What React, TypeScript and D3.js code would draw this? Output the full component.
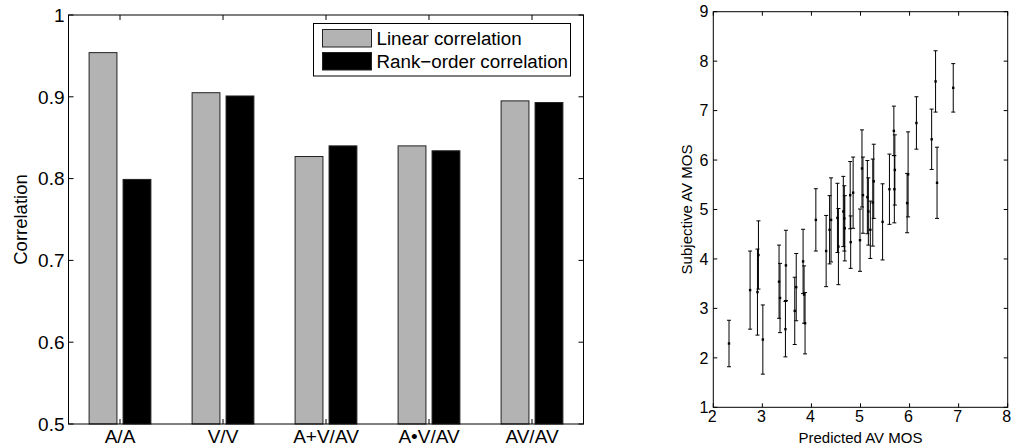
import React from 'react';
import * as d3 from 'd3';

// left panel: correlation per model
const categories = ['A/A', 'V/V', 'A+V/AV', 'A•V/AV', 'AV/AV'];
const linearCorr = [0.954, 0.905, 0.827, 0.840, 0.895];
const rankCorr = [0.799, 0.901, 0.840, 0.834, 0.893];
const seriesNames = ['Linear correlation', 'Rank−order correlation'];
const yTicksLeft = [0.5, 0.6, 0.7, 0.8, 0.9, 1];

// right panel: predicted vs subjective MOS with 95% intervals
const predicted = [2.32, 2.75, 2.90, 2.92, 3.01, 3.34, 3.36, 3.48, 3.47, 3.66, 3.69, 3.83, 3.85, 3.87,
  4.09, 4.30, 4.40, 4.37, 4.53, 4.55, 4.65, 4.67, 4.68, 4.79, 4.80, 4.85, 4.99, 5.03, 5.05,
  5.14, 5.16, 5.20, 5.25, 5.27, 5.45, 5.59, 5.68, 5.70, 5.69, 5.97, 5.95, 6.14, 6.45, 6.53, 6.56, 6.89];
const subjective = [2.29, 3.37, 3.33, 4.08, 2.37, 3.54, 3.21, 3.87, 2.58, 2.95, 3.43, 3.95, 3.28, 2.70,
  4.79, 4.16, 4.79, 4.59, 4.83, 4.25, 4.96, 4.82, 4.62, 5.29, 4.34, 5.34, 4.38, 5.83, 5.29,
  5.25, 4.96, 4.59, 5.14, 5.57, 4.75, 5.41, 6.59, 5.80, 5.41, 5.71, 5.13, 6.75, 6.42, 7.59, 5.54, 7.46];
const ciHalf = [0.47, 0.79, 0.87, 0.69, 0.70, 0.74, 0.70, 0.71, 0.56, 0.68, 0.68, 0.65, 0.58, 0.62,
  0.63, 0.72, 0.85, 0.69, 0.70, 0.77, 0.71, 0.66, 0.66, 0.68, 0.53, 0.72, 0.63, 0.78, 0.77,
  0.74, 0.68, 0.58, 0.88, 0.75, 0.77, 0.71, 0.50, 0.71, 0.68, 0.86, 0.60, 0.53, 0.61, 0.62, 0.72, 0.49];
const xTicksRight = [2, 3, 4, 5, 6, 7, 8];
const yTicksRight = [1, 2, 3, 4, 5, 6, 7, 8, 9];

const font = '"Liberation Sans", Arial, Helvetica, sans-serif';

const BarPanel = () => {
  const left = 68.5, right = 583.5, top = 15, bottom = 424;
  const x = d3.scaleBand().domain(categories).range([left, right]).paddingInner(0.4).paddingOuter(0.2);
  const inner = d3.scaleBand<number>().domain([0, 1]).range([0, x.bandwidth()]).paddingInner(0.18);
  const y = d3.scaleLinear().domain([0.5, 1]).range([bottom, top]);
  const series = [linearCorr, rankCorr];
  const fills = ['#b3b3b3', '#000'];
  const center = (c: string) => (x(c) as number) + x.bandwidth() / 2;

  return (
    <g>
      {series.map((vals, s) =>
        vals.map((v, i) => (
          <rect key={`${s}-${i}`}
            x={(x(categories[i]) as number) + (inner(s) as number)}
            y={y(v)}
            width={inner.bandwidth()}
            height={y(0.5) - y(v)}
            fill={fills[s]} stroke="#222" strokeWidth={1} />
        ))
      )}
      <rect x={left} y={top} width={right - left} height={bottom - top} fill="none" stroke="#000" strokeWidth={1} />
      {yTicksLeft.map(t => (
        <g key={t}>
          <line x1={left} x2={left + 5} y1={y(t)} y2={y(t)} stroke="#000" />
          <line x1={right} x2={right - 5} y1={y(t)} y2={y(t)} stroke="#000" />
          <text x={left - 4} y={y(t)} dy="0.36em" textAnchor="end" fontSize={19} fontFamily={font}>{t === 1 ? '1' : t.toFixed(1)}</text>
        </g>
      ))}
      {categories.map(c => (
        <g key={c}>
          <line x1={center(c)} x2={center(c)} y1={bottom} y2={bottom - 5} stroke="#000" />
          <line x1={center(c)} x2={center(c)} y1={top} y2={top + 5} stroke="#000" />
          <text x={center(c)} y={443} textAnchor="middle" fontSize={19} fontFamily={font}>{c}</text>
        </g>
      ))}
      <text transform={`translate(27,${(top + bottom) / 2}) rotate(-90)`} textAnchor="middle" fontSize={18.5} fontFamily={font}>Correlation</text>
      {/* legend */}
      <rect x={313.5} y={23.5} width={257} height={52.5} fill="#fff" stroke="#000" strokeWidth={1} />
      {seriesNames.map((n, s) => (
        <g key={n}>
          <rect x={322.5} y={29.5 + s * 23} width={49} height={17.5} fill={fills[s]} stroke="#222" />
          <text x={376.5} y={38.5 + s * 23} dy="0.36em" fontSize={18.8} fontFamily={font}>{n}</text>
        </g>
      ))}
    </g>
  );
};

const ScatterPanel = () => {
  const left = 713.3, right = 1007.7, top = 11.7, bottom = 407.3;
  const x = d3.scaleLinear().domain([2, 8]).range([left, right]);
  const y = d3.scaleLinear().domain([1, 9]).range([bottom, top]);
  const cap = 2;

  return (
    <g>
      {predicted.map((p, i) => {
        const cx = x(p);
        const lo = y(subjective[i] - ciHalf[i]);
        const hi = y(subjective[i] + ciHalf[i]);
        return (
          <g key={i} stroke="#000" strokeWidth={1}>
            <line x1={cx} x2={cx} y1={lo} y2={hi} />
            <line x1={cx - cap} x2={cx + cap} y1={lo} y2={lo} />
            <line x1={cx - cap} x2={cx + cap} y1={hi} y2={hi} />
            <rect x={cx - 1.2} y={y(subjective[i]) - 1.2} width={2.4} height={2.4} fill="#000" stroke="none" />
          </g>
        );
      })}
      <rect x={left} y={top} width={right - left} height={bottom - top} fill="none" stroke="#000" strokeWidth={1} />
      {xTicksRight.map(t => (
        <g key={t}>
          <line x1={x(t)} x2={x(t)} y1={bottom} y2={bottom - 4} stroke="#000" />
          <line x1={x(t)} x2={x(t)} y1={top} y2={top + 4} stroke="#000" />
          <text x={x(t) - 1} y={416.5} dy="0.36em" textAnchor="middle" fontSize={16} fontFamily={font}>{t}</text>
        </g>
      ))}
      {yTicksRight.map(t => (
        <g key={t}>
          <line x1={left} x2={left + 4} y1={y(t)} y2={y(t)} stroke="#000" />
          <line x1={right} x2={right - 4} y1={y(t)} y2={y(t)} stroke="#000" />
          <text x={left - 5} y={y(t)} dy="0.36em" textAnchor="end" fontSize={16} fontFamily={font}>{t}</text>
        </g>
      ))}
      <text x={(left + right) / 2} y={443} textAnchor="middle" fontSize={15} fontFamily={font}>Predicted AV MOS</text>
      <text transform={`translate(691.5,${(top + bottom) / 2}) rotate(-90)`} textAnchor="middle" fontSize={15} fontFamily={font}>Subjective AV MOS</text>
    </g>
  );
};

export default function App() {
  return (
    <svg width={1011} height={446} style={{ position: 'absolute', left: 0, top: 0, background: '#fff' }}>
      <BarPanel />
      <ScatterPanel />
    </svg>
  );
}
